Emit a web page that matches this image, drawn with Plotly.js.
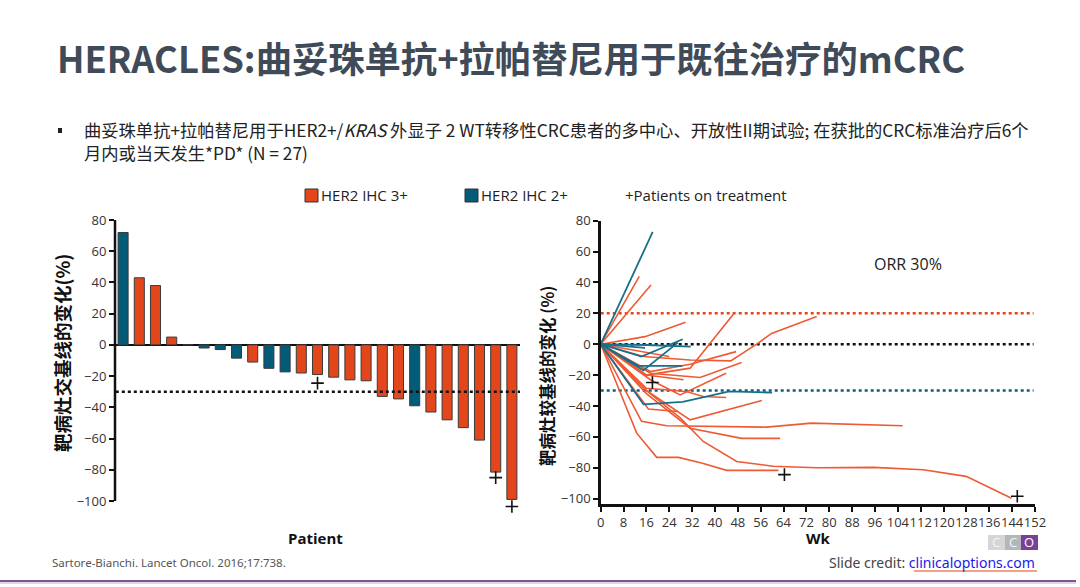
<!DOCTYPE html>
<html>
<head>
<meta charset="utf-8">
<script src="https://cdn.plot.ly/plotly-3.0.1.min.js"></script>
<style>html,body{margin:0;padding:0;background:#fff;}#chart{width:1080px;height:587px;}</style>
</head>
<body>
<div id="chart"></div>
<script>
// ---------- Data ----------
// Waterfall: best change from baseline per patient (%)
const patientIdx = [1,2,3,4,5,6,7,8,9,10,11,12,13,14,15,16,17,18,19,20,21,22,23,24,25];
const bestChange = [72,43,38,5,0,-2,-3,-8.5,-11,-15,-17.3,-18,-19,-20.7,-22.4,-23,-33,-34.6,-39,-43,-48,-53,-61,-81.5,-99];
const her2Status = ['2+','3+','3+','3+','3+','2+','2+','2+','3+','2+','2+','3+','3+','3+','3+','3+','3+','3+','2+','3+','3+','3+','3+','3+','3+'];
const onTxBarIdx = [13,24,25];
const onTxBarY = [-24.5,-85,-103.5];
const waterfallRef = -30;

// Spider plot: weeks and change from baseline for each patient
const tealWeeks = [
  [0,18.2],[0,15.5],[0,14.3,28.7],[0,16,31.5],[0,13.2,28.6],[0,14.9,27],[0,15,28.7,45,60]
];
const tealValues = [
  [0,72.7],[0,-2.4],[0,-8,3.2],[0,-0.5,-1.5],[0,-14,-14],[0,-17,1],[0,-39,-37.3,-30.6,-31.3]
];
const orangeWeeks = [
  [0,13.5],[0,17.6],[0,15.5,29.7],[0,16,31.3,46.5],[0,15,31.3,45.5,54.6,59.8,75.6],
  [0,17.4,31.3,47.4],[0,17.4,34.8,49.3],[0,17.4,27.8,43.9],[0,16,30,35.9,43.9],
  [0,16,31.3,42.9,56.4],[0,14.3,23.1,58.1,73.8,105.7],[0,16,31.3,49.3,62.8],
  [0,16,28,35.9,47.6,60.4,75.6,95.4,112.9,127.9,143.8],[0,12.6,19.6,27.2,35.3,44.1,62.2],
  [0,16.7,26.9],[0,12,24],[0,16,29]
];
const orangeValues = [
  [0,44],[0,38.4],[0,4.9,14.2],[0,-20,-15.5,19.6],[0,-8,-10.2,-10.8,0,7,18],
  [0,-17.7,-13,-4.8],[0,-18.8,-21.6,-11.9],[0,-23,-32.8,-18.8],[0,-28.5,-30.6,-33.9,-34.5],
  [0,-30,-49,-43,-36.5],[0,-50,-52.8,-53.7,-51.1,-52.8],[0,-32,-54.4,-61,-61],
  [0,-30,-48,-63,-76,-79,-80,-79.8,-81.3,-85.6,-99.8],[0,-57.6,-73.3,-73.3,-77,-81.7,-81.7],
  [0,-42,-43.6],[0,-4,-8],[0,-20,-23]
];
const onTxSpiderWeeks = [18.1,64.3,145.8];
const onTxSpiderY = [-24.8,-84.5,-98.5];
const spiderRefValues = [20,0,-30];
const spiderRefColors = ['#E4461B','#111111','#0E5E7B'];
const spiderRefEnd = 151.5;

const yTicks = [80,60,40,20,0,-20,-40,-60,-80,-100];
const wkTicks = [0,8,16,24,32,40,48,56,64,72,80,88,96,104,112,120,128,136,144,152];

const ORANGE = '#E4461B';
const TEAL = '#035B78';
const ORANGE_LINE = '#EE5A33';
const TEAL_LINE = '#16708C';

// ---------- helpers ----------
const W = 1080, H = 587;
const px = x => x / W;
const py = y => 1 - y / H;
const CJK = '"Noto Sans CJK SC", "Noto Sans", sans-serif';
const TICKF = '"Open Sans", "Noto Sans", sans-serif';

// left axis: -100..80 spans pixel 501..220; extra room below for the markers
const leftYMin = -108;
const leftPxPerUnit = (501 - 220) / 180;
const leftBottomPx = 501 + (-100 - leftYMin) * leftPxPerUnit;

// ---------- traces ----------
const traces = [];
function pick(status){
  const xs=[], ys=[];
  patientIdx.forEach((p,i)=>{ if(her2Status[i]===status){ xs.push(p); ys.push(bestChange[i]); } });
  return {xs, ys};
}
const b3 = pick('3+'), b2 = pick('2+');
const plusMarker = {symbol:'cross-thin', size:9, line:{color:'#111', width:1.6}};
traces.push({type:'bar', x:b3.xs, y:b3.ys, width:0.62, marker:{color:ORANGE, line:{color:'#3a3a3a', width:1}}, xaxis:'x', yaxis:'y', hoverinfo:'skip'});
traces.push({type:'bar', x:b2.xs, y:b2.ys, width:0.62, marker:{color:TEAL, line:{color:'#3a3a3a', width:1}}, xaxis:'x', yaxis:'y', hoverinfo:'skip'});
traces.push({type:'scatter', mode:'lines', x:[0.55,25.5], y:[waterfallRef,waterfallRef], line:{color:'#111', width:2.5, dash:'dot'}, xaxis:'x', yaxis:'y', hoverinfo:'skip'});
traces.push({type:'scatter', mode:'markers', x:onTxBarIdx, y:onTxBarY, marker:plusMarker, cliponaxis:false, xaxis:'x', yaxis:'y', hoverinfo:'skip'});

// reference lines on spider
spiderRefValues.forEach((v,i)=>{
  traces.push({type:'scatter', mode:'lines', x:[0,spiderRefEnd], y:[v,v], line:{color:spiderRefColors[i], width:2.5, dash:'dot'}, xaxis:'x2', yaxis:'y2', hoverinfo:'skip'});
});
orangeWeeks.forEach((w,i)=>{
  traces.push({type:'scatter', mode:'lines', x:w, y:orangeValues[i], line:{color:ORANGE_LINE, width:1.6}, xaxis:'x2', yaxis:'y2', hoverinfo:'skip'});
});
tealWeeks.forEach((w,i)=>{
  traces.push({type:'scatter', mode:'lines', x:w, y:tealValues[i], line:{color:TEAL_LINE, width:1.8}, xaxis:'x2', yaxis:'y2', hoverinfo:'skip'});
});
traces.push({type:'scatter', mode:'markers', x:onTxSpiderWeeks, y:onTxSpiderY, marker:plusMarker, cliponaxis:false, xaxis:'x2', yaxis:'y2', hoverinfo:'skip'});

// ---------- layout ----------
const axisCommon = {showgrid:false, ticks:'outside', ticklen:5, tickwidth:2, tickcolor:'#111', showline:true, linewidth:2.5, linecolor:'#111', tickfont:{family:TICKF, size:13, color:'#333'}, fixedrange:true};

const ann = [];
function A(text, x, y, opts){ ann.push(Object.assign({text, x:px(x), y:py(y), xref:'paper', yref:'paper', showarrow:false, xanchor:'left', yanchor:'middle'}, opts||{})); }

A('<b>HERACLES:曲妥珠单抗+拉帕替尼用于既往治疗的mCRC</b>', 55, 57, {font:{family:CJK, size:36.3, color:'#3F4B58'}});
A('曲妥珠单抗+拉帕替尼用于HER2+/<i>KRAS</i> 外显子 2 WT转移性CRC患者的多中心、开放性II期试验; 在获批的CRC标准治疗后6个', 82, 130, {font:{family:CJK, size:17.3, color:'#222'}});
A('月内或当天发生*PD* (N = 27)', 82, 152, {font:{family:CJK, size:17.3, color:'#222'}});
// legend
A('HER2 IHC 3+', 319, 195, {font:{family:TICKF, size:15, color:'#222'}});
A('HER2 IHC 2+', 479, 195, {font:{family:TICKF, size:15, color:'#222'}});
A('+Patients on treatment', 623, 195, {font:{family:TICKF, size:15, color:'#222'}});
// axis titles
A('<b>靶病灶交基线的变化(%)</b>', 62, 353, {xanchor:'center', textangle:-90, font:{family:CJK, size:18.5, color:'#111'}});
A('<b>靶病灶较基线的变化 (%)</b>', 547, 376, {xanchor:'center', textangle:-90, font:{family:CJK, size:16.5, color:'#111'}});
A('<b>Patient</b>', 315, 538, {xanchor:'center', font:{family:TICKF, size:15, color:'#111'}});
A('<b>Wk</b>', 818, 538, {xanchor:'center', font:{family:TICKF, size:15, color:'#111'}});
A('ORR 30%', 872, 264, {font:{family:TICKF, size:16, color:'#222'}});
// footer
A('Sartore-Bianchi. Lancet Oncol. 2016;17:738.', 50, 562, {font:{family:'"Liberation Sans Narrow", "Noto Sans", sans-serif', size:11.5, color:'#555'}});
A('Slide credit: <span style="color:#1a1aee">clinicaloptions.com</span>', 1037, 562, {xanchor:'right', font:{family:'"Liberation Sans Narrow", "Noto Sans", sans-serif', size:14, color:'#444'}});
A('C', 996, 542, {xanchor:'center', font:{family:TICKF, size:13, color:'#f4f4f4'}});
A('C', 1013, 542, {xanchor:'center', font:{family:TICKF, size:13, color:'#f4f4f4'}});
A('O', 1029, 542, {xanchor:'center', font:{family:TICKF, size:13, color:'#fff'}});

const shapes = [
  // left y-axis line, drawn only over the labelled range
  {type:'line', xref:'x domain', yref:'y', x0:0, x1:0, y0:-100, y1:80, line:{color:'#111', width:2.5}},
  {type:'rect', xref:'paper', yref:'paper', x0:px(58), x1:px(62), y0:py(133), y1:py(128), fillcolor:'#222', line:{width:0}},
  {type:'rect', xref:'paper', yref:'paper', x0:px(305), x1:px(318), y0:py(202), y1:py(189), fillcolor:ORANGE, line:{color:'#333', width:1}},
  {type:'rect', xref:'paper', yref:'paper', x0:px(465), x1:px(478), y0:py(202), y1:py(189), fillcolor:TEAL, line:{color:'#333', width:1}},
  // underline for link
  {type:'line', xref:'paper', yref:'paper', x0:px(914), x1:px(1037), y0:py(571), y1:py(571), line:{color:'#E4461B', width:1.2}},
  // CCO logo blocks
  {type:'rect', xref:'paper', yref:'paper', x0:px(988), x1:px(1005), y0:py(550), y1:py(535), fillcolor:'#d4d6d8', line:{width:0}},
  {type:'rect', xref:'paper', yref:'paper', x0:px(1005), x1:px(1021), y0:py(550), y1:py(535), fillcolor:'#b4b7ba', line:{width:0}},
  {type:'rect', xref:'paper', yref:'paper', x0:px(1021), x1:px(1038), y0:py(550), y1:py(535), fillcolor:'#7a3f97', line:{width:0}},
  // bottom purple rule
  {type:'line', xref:'paper', yref:'paper', x0:0, x1:px(1076), y0:py(581), y1:py(581), line:{color:'#7d5593', width:2}},
  {type:'line', xref:'paper', yref:'paper', x0:0, x1:px(1076), y0:py(583), y1:py(583), line:{color:'#d8c8e0', width:1.5}}
];

const layout = {
  width:W, height:H, margin:{l:0,r:0,t:0,b:0}, paper_bgcolor:'#fff', plot_bgcolor:'rgba(0,0,0,0)',
  showlegend:false, barmode:'overlay',
  xaxis:{domain:[px(115), px(520)], range:[0.5,25.5], showline:false, showticklabels:false, ticks:'', showgrid:false, zeroline:false, fixedrange:true},
  yaxis:Object.assign({}, axisCommon, {domain:[py(leftBottomPx), py(220)], range:[leftYMin,80], tickvals:yTicks, showline:false, zeroline:true, zerolinecolor:'#111', zerolinewidth:2.5}),
  xaxis2:Object.assign({}, axisCommon, {domain:[px(600.7), px(1035)], range:[0,152], tickvals:wkTicks, tickangle:0, zeroline:false, anchor:'y2'}),
  yaxis2:Object.assign({}, axisCommon, {domain:[py(504), py(220.7)], range:[-103.5,80], tickvals:yTicks, zeroline:false, anchor:'x2'}),
  annotations:ann, shapes:shapes
};

Plotly.newPlot('chart', traces, layout, {displayModeBar:false, staticPlot:true});
</script>
</body>
</html>
